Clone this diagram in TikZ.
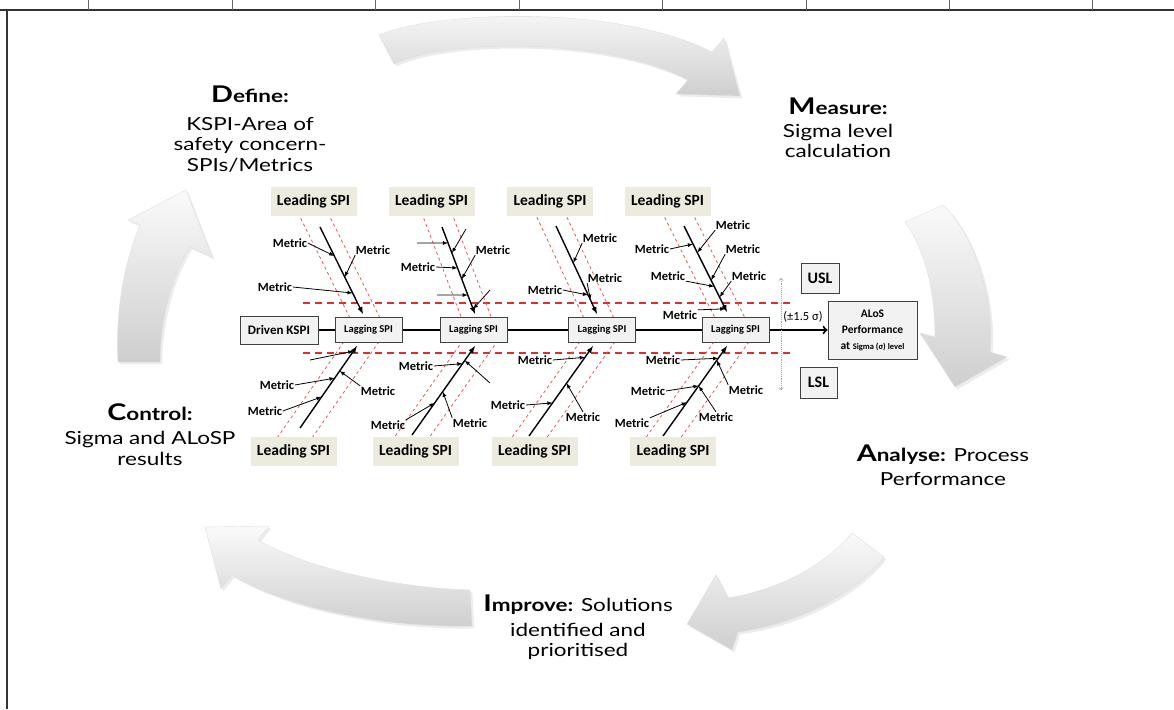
\documentclass[tikz,border=0pt]{standalone}
\usepackage{fontspec}
\setmainfont{Carlito}
\newfontfamily\phasefont[FakeStretch=1.25]{Lato}
\usetikzlibrary{arrows,shapes,calc,positioning,shadows}

\definecolor{leadfill}{RGB}{237,234,222}
\definecolor{boxfill}{RGB}{242,242,242}
\definecolor{bandred}{RGB}{226,45,45}

\newcommand{\phasehead}[2]{{\bfseries\fontsize{23}{23}\selectfont #1}{\bfseries #2}}

\begin{document}
\begin{tikzpicture}[x=1pt, y=-1pt,
		lead/.style = {fill=leadfill, minimum width=86pt, minimum height=29pt, inner sep=0pt, font=\bfseries\fontsize{15.5}{15.5}\selectfont},
		lag/.style = {draw=black!75, fill=boxfill, line width=1pt, minimum width=67pt, minimum height=25pt, inner sep=0pt, font=\bfseries\fontsize{10.5}{10.5}\selectfont},
		limit/.style = {draw=black!75, fill=boxfill, line width=1pt, inner sep=0pt, font=\bfseries\fontsize{16}{16}\selectfont},
		metric/.style = {inner sep=0.5pt, font=\bfseries\fontsize{12.5}{12.5}\selectfont},
		metricarrow/.style = {line width=0.8pt, -latex},
		bone/.style = {line width=1.4pt, -latex},
		band/.style = {bandred, line width=1.5pt, dash pattern=on 7pt off 5pt},
		bandside/.style = {bandred!80, line width=0.8pt, dash pattern=on 3pt off 3pt},
		cyclearrow/.style = {top color=gray!4, bottom color=gray!38, draw=gray!25, line width=0.4pt, drop shadow={opacity=0.15}},
		phase/.style = {align=center, inner sep=0pt, font=\phasefont\fontsize{18}{20.5}\selectfont}
	]
	\useasboundingbox (0,0) rectangle (1174,709);

	% frame of the table cell
	\draw[black!80, line width=2pt] (0,10) -- (1174,10);
	\draw[black!80, line width=2pt] (7,10) -- (7,709);
	\foreach \x in {88,232,375,519,662,806,949,1092}
		\draw[black!60, line width=0.6pt] (\x,0) -- (\x,10);

	% DMAIC cycle arrows
	\shade[cyclearrow] (379,35) .. controls (440,10) and (620,5) .. (712,52) -- (724,38) -- (740,96) -- (676,94) -- (688,80) .. controls (610,38) and (450,38) .. (394,64) -- cycle;
	\shade[cyclearrow] (943,205) .. controls (975,235) and (995,300) .. (990,352) -- (1007,357) -- (955,387) -- (920,333) -- (935,337) .. controls (935,290) and (925,250) .. (905,222) -- cycle;
	\shade[cyclearrow] (884,557) .. controls (850,600) and (790,625) .. (738,632) -- (732,650) -- (687,624) -- (716,575) -- (728,598) .. controls (775,590) and (820,570) .. (852,533) -- cycle;
	\shade[cyclearrow] (472,626) .. controls (390,628) and (290,610) .. (232,575) -- (221,589) -- (205,527) -- (269,526) -- (258,540) .. controls (310,570) and (400,588) .. (470,590) -- cycle;
	\shade[cyclearrow] (160,362) .. controls (160,320) and (172,275) .. (190,247) -- (212,257) -- (186,190) -- (128,220) -- (140,225) .. controls (125,260) and (115,310) .. (118,362) -- cycle;

	% sigma bands
	\draw[band] (303,303) -- (792,303);
	\draw[band] (303,353) -- (792,353);

	% bones
	\coordinate (up1a) at (320,227); \coordinate (up1b) at (363,314);
	\coordinate (up2a) at (442,227); \coordinate (up2b) at (475,314);
	\coordinate (up3a) at (556,226); \coordinate (up3b) at (597,314);
	\coordinate (up4a) at (684,226); \coordinate (up4b) at (727,312);
	\coordinate (dn1a) at (300,428); \coordinate (dn1b) at (357,346);
	\coordinate (dn2a) at (412,435); \coordinate (dn2b) at (475,346);
	\coordinate (dn3a) at (529,436); \coordinate (dn3b) at (593,346);
	\coordinate (dn4a) at (663,436); \coordinate (dn4b) at (727,346);

	\foreach \bn in {up1,up2,up3,up4} {
		\draw[bandside] ($(\bn a)!-0.1!(\bn b)+(-15,0)$) -- ($(\bn a)!1.08!(\bn b)+(-15,0)$);
		\draw[bandside] ($(\bn a)!-0.1!(\bn b)+(15,0)$) -- ($(\bn a)!1.08!(\bn b)+(15,0)$);
	}
	\foreach \bn in {dn1,dn2,dn3,dn4} {
		\draw[bandside] ($(\bn a)!-0.12!(\bn b)+(-16,0)$) -- ($(\bn a)!1.08!(\bn b)+(-16,0)$);
		\draw[bandside] ($(\bn a)!-0.12!(\bn b)+(19,0)$) -- ($(\bn a)!1.08!(\bn b)+(19,0)$);
	}

	% spine
	\node[limit, minimum width=78pt, minimum height=28pt, font=\bfseries\fontsize{13}{13}\selectfont] (ksp) at (279,330) {Driven KSPI};
	\node[lag] (lag1) at (368.5,330) {Lagging SPI};
	\node[lag] (lag2) at (473.5,330) {Lagging SPI};
	\node[lag] (lag3) at (602,330) {Lagging SPI};
	\node[lag] (lag4) at (735.5,330) {Lagging SPI};
	\node[limit, minimum width=89pt, minimum height=58pt, align=center, font=\bfseries\fontsize{11.5}{16}\selectfont] (alos) at (872.5,330) {ALoS\\Performance\\at {\fontsize{8.5}{16}\selectfont Sigma (σ) level}};
	\node[limit, minimum width=38pt, minimum height=30pt] (usl) at (820,278) {USL};
	\node[limit, minimum width=37pt, minimum height=31pt] (lsl) at (818.5,382.5) {LSL};
	\draw[line width=2pt] (ksp) -- (lag1) -- (lag2) -- (lag3) -- (lag4);
	\draw[line width=2pt, ->] (lag4) -- (alos);

	\coordinate (dtop) at (781,278);
	\coordinate (dbot) at (781,390);
	\draw[gray!70, line width=0.9pt, densely dotted, <->] (dtop) -- (dbot);
	\node[font=\fontsize{12.5}{12.5}\selectfont, inner sep=0pt] (spread) at (803,317) {(±1.5 σ)};

	% leading SPIs
	\node[lead] (lt1) at (313.5,201.5) {Leading SPI};
	\node[lead] (lt2) at (431.5,201.5) {Leading SPI};
	\node[lead] (lt3) at (550,201.5) {Leading SPI};
	\node[lead] (lt4) at (667.5,201.5) {Leading SPI};
	\node[lead] (lb1) at (293.5,451) {Leading SPI};
	\node[lead] (lb2) at (415.5,451) {Leading SPI};
	\node[lead] (lb3) at (534.5,451) {Leading SPI};
	\node[lead] (lb4) at (673,451) {Leading SPI};

	\foreach \bn in {up1,up2,up3,up4,dn1,dn2,dn3,dn4}
		\draw[bone] (\bn a) -- (\bn b);

	% metrics: label x/y, text, start anchor, bone, place on bone
	\foreach \lx/\ly/\txt/\anc/\bn/\fr [count=\i] in {
		290/243/Metric/east/up1/0.333, 373/250/Metric/south west/up1/0.575, 275/287/Metric/east/up1/0.759,
		417/243//center/up2/0.184, 466/229//center/up2/0.299, 418/267/Metric/east/up2/0.471,
		493/250/Metric/south west/up2/0.598, 437/295//center/up2/0.782, 490/290//center/up2/0.943,
		600/238/Metric/south west/up3/0.42, 605/278/Metric/south west/up3/0.84, 545/290/Metric/east/up3/0.784,
		733/225/Metric/south west/up4/0.309, 652/249/Metric/east/up4/0.21, 743/249/Metric/south west/up4/0.63,
		668/276/Metric/south east/up4/0.704, 749/276/Metric/south west/up4/0.827, 680/315/Metric/north east/up4/0.963,
		310/360//center/dn1/0.937, 277/385/Metric/east/dn1/0.608, 265/411/Metric/east/dn1/0.38,
		378/391/Metric/north west/dn1/0.696, 416/366/Metric/east/dn2/0.802, 388/425/Metric/north east/dn2/0.36,
		470/423/Metric/north west/dn2/0.488, 490/383//center/dn2/0.837, 535/360/Metric/east/dn3/0.874,
		508/405/Metric/east/dn3/0.368, 583/417/Metric/north/dn3/0.586, 663/360/Metric/east/dn4/0.864,
		648/391/Metric/east/dn4/0.557, 632/423/Metric/north east/dn4/0.375, 746/390/Metric/north west/dn4/0.841,
		716/417/Metric/north/dn4/0.557} {
		\node[metric] (met\i) at (\lx,\ly) {\txt};
		\draw[metricarrow] (met\i.\anc) -- ($(\bn a)!\fr!(\bn b)$);
	}

	% DMAIC phases
	\node[phase, anchor=north] (define) at (250,86) {\phasehead{D}{efine:}\\[7pt]KSPI-Area of\\safety concern-\\SPIs/Metrics};
	\node[phase, anchor=north] (measure) at (838,98) {\phasehead{M}{easure:}\\[2pt]Sigma level\\calculation};
	\node[phase, anchor=north] (control) at (150,403) {\phasehead{C}{ontrol:}\\[4pt]Sigma and ALoSP\\results};
	\node[phase, anchor=north] (analyse) at (943,445) {\phasehead{A}{nalyse:} Process\\[3pt]Performance};
	\node[phase, anchor=north] (improve) at (578,595) {\phasehead{I}{mprove:} Solutions\\[4pt]identified and\\prioritised};
\end{tikzpicture}
\end{document}
